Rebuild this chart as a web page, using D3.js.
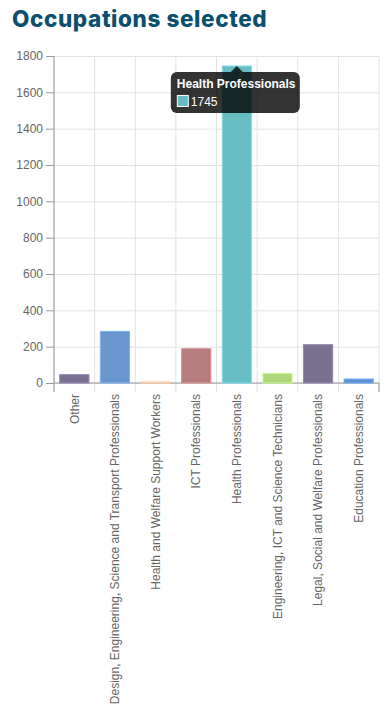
<!DOCTYPE html>
<html>
<head>
<meta charset="utf-8">
<script src="https://cdn.jsdelivr.net/npm/d3@7"></script>
<style>
  body { margin: 0; background: #fff; }
  svg { display: block; }
</style>
</head>
<body>
<svg id="chart"></svg>
<script>
let categories = ["Other", "Design, Engineering, Science and Transport Professionals",
  "Health and Welfare Support Workers", "ICT Professionals", "Health Professionals",
  "Engineering, ICT and Science Technicians", "Legal, Social and Welfare Professionals",
  "Education Professionals"];
let values = [46, 284, 6, 189, 1745, 53, 211, 22];
let colors = ["#7a7192", "#6896cd", "#f2b08f", "#b77c7e", "#68bdc3", "#add67a", "#7a7192", "#5d91d1"];
let yTicks = [0, 200, 400, 600, 800, 1000, 1200, 1400, 1600, 1800];
let tipIndex = 4;

let width = 387, height = 708;
let margin = {top: 56, right: 8, bottom: 325, left: 54};
let INNER_WIDTH = width - margin.left - margin.right;
let INNER_HEIGHT = height - margin.top - margin.bottom;

let svg = d3.select("#chart").attr("width", width).attr("height", height);

// title
svg.append("text")
  .attr("x", 12).attr("y", 27)
  .style("font-family", "Inter, 'Open Sans', sans-serif")
  .style("font-weight", 800)
  .style("font-size", "22.5px")
  .style("letter-spacing", "0.6px")
  .style("fill", "#0b4f6f")
  .text("Occupations selected");

let g = svg.append("g").attr("transform", `translate(${margin.left},${margin.top})`);

let x = d3.scaleBand().domain(categories).range([0, INNER_WIDTH]);
let y = d3.scaleLinear().domain([0, 1800]).range([INNER_HEIGHT, 0]);

// grid
let grid_y = g.append("g")
  .call(d3.axisLeft(y).tickValues(yTicks).tickSize(-INNER_WIDTH).tickFormat(""));
grid_y.select(".domain").remove();
grid_y.selectAll("line").style("stroke", "#e1e1e1");

let bounds = categories.map(c => x(c) + x.bandwidth()).concat([0]);
g.append("g").selectAll("line").data(bounds).join("line")
  .attr("x1", d => d).attr("x2", d => d)
  .attr("y1", 0).attr("y2", INNER_HEIGHT + 9)
  .style("stroke", "#e1e1e1");

// y axis
let y_axis = g.append("g")
  .call(d3.axisLeft(y).tickValues(yTicks).tickSize(8).tickPadding(3).tickFormat(d3.format("d")));
y_axis.select(".domain").attr("d", `M0,0V${INNER_HEIGHT}`).style("stroke", "#9a9a9a");
y_axis.selectAll("line").style("stroke", "#9a9a9a");
y_axis.selectAll("text")
  .style("font-family", "'Liberation Sans', Arial, sans-serif")
  .style("font-size", "12px")
  .style("fill", "#666");

// x axis
let x_axis = g.append("g")
  .attr("transform", `translate(0,${INNER_HEIGHT})`)
  .call(d3.axisBottom(x).tickSize(0).tickPadding(0));
x_axis.select(".domain").attr("d", `M0,0H${INNER_WIDTH}`).style("stroke", "#9a9a9a");
x_axis.selectAll("text")
  .attr("transform", "rotate(-90)")
  .attr("x", -11).attr("y", 0).attr("dy", "0.35em")
  .style("text-anchor", "end")
  .style("font-family", "'Liberation Sans', Arial, sans-serif")
  .style("font-size", "12px")
  .style("fill", "#666");
g.append("g").selectAll("line").data([0, INNER_WIDTH]).join("line")
  .attr("x1", d => d).attr("x2", d => d)
  .attr("y1", INNER_HEIGHT).attr("y2", INNER_HEIGHT + 9)
  .style("stroke", "#9a9a9a");

// bars
let bw = x.bandwidth() * 0.72;
g.append("g").selectAll("rect").data(values).join("rect")
  .attr("x", (d, i) => x(categories[i]) + (x.bandwidth() - bw) / 2)
  .attr("y", d => y(d))
  .attr("width", bw)
  .attr("height", d => INNER_HEIGHT - y(d))
  .style("fill", (d, i) => colors[i])
  .style("stroke", (d, i) => d3.color(colors[i]).brighter(0.5))
  .style("stroke-width", 1);

// tooltip
let cx = x(categories[tipIndex]) + x.bandwidth() / 2;
let ty = y(values[tipIndex]);
let tip = g.append("g");
let tw = 129, th = 41, tx = cx - 66, tTop = ty + 6;
tip.append("path")
  .attr("d", `M${cx - 6},${tTop} L${cx},${tTop - 6} L${cx + 6},${tTop} Z`)
  .style("fill", "rgba(0,0,0,0.8)");
tip.append("rect")
  .attr("x", tx).attr("y", tTop).attr("width", tw).attr("height", th)
  .attr("rx", 6)
  .style("fill", "rgba(0,0,0,0.8)");
tip.append("text")
  .attr("x", tx + 6).attr("y", tTop + 16)
  .style("font-family", "'Liberation Sans', Arial, sans-serif")
  .style("font-size", "12px").style("font-weight", "bold")
  .style("fill", "#fff")
  .text(categories[tipIndex]);
tip.append("rect")
  .attr("x", tx + 6.5).attr("y", tTop + 23.5).attr("width", 11).attr("height", 11)
  .style("fill", colors[tipIndex]).style("stroke", "#fff");
tip.append("text")
  .attr("x", tx + 20).attr("y", tTop + 34)
  .style("font-family", "'Liberation Sans', Arial, sans-serif")
  .style("font-size", "12px")
  .style("fill", "#fff")
  .text(values[tipIndex]);
</script>
</body>
</html>
